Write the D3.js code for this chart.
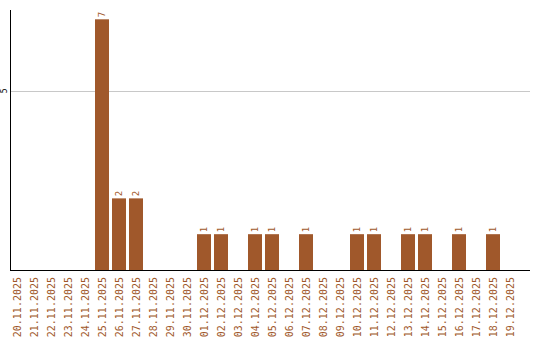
<!DOCTYPE html>
<html>
<head>
<meta charset="utf-8">
<script src="https://cdn.jsdelivr.net/npm/d3@7"></script>
<style>
  body { margin: 0; background: #fff; }
</style>
</head>
<body>
<div id="chart"></div>
<script>
var dates = ["20.11.2025", "21.11.2025", "22.11.2025", "23.11.2025", "24.11.2025",
    "25.11.2025", "26.11.2025", "27.11.2025", "28.11.2025", "29.11.2025",
    "30.11.2025", "01.12.2025", "02.12.2025", "03.12.2025", "04.12.2025",
    "05.12.2025", "06.12.2025", "07.12.2025", "08.12.2025", "09.12.2025",
    "10.12.2025", "11.12.2025", "12.12.2025", "13.12.2025", "14.12.2025",
    "15.12.2025", "16.12.2025", "17.12.2025", "18.12.2025", "19.12.2025"]
var counts = [0, 0, 0, 0, 0, 7, 2, 2, 0, 0,
    0, 1, 1, 0, 1, 1, 0, 1, 0, 0,
    1, 1, 0, 1, 1, 0, 1, 0, 1, 0]
var yTicks = [5]

var width = 540
var height = 340
var margins = ({ top: 10, right: 10, bottom: 70, left: 10 })
const barColor = "#a0582b"

var svg = d3.select("#chart")
    .append("svg")
    .attr("width", width)
    .attr("height", height)

var data = dates.map(function(d, i) { return { "date": d, "count": counts[i] } })

// 17px per day, 14px bars, bars sit at the left of each slot
var x = d3.scaleBand()
    .domain(dates)
    .range([margins.left, margins.left + dates.length * 17 - 3])
    .paddingInner(3 / 17)
    .paddingOuter(0)

var y = d3.scaleLinear()
    .domain([0, 7.26])
    .range([height - margins.bottom, margins.top])

// grid
svg.selectAll(".grid")
    .data(yTicks)
    .enter()
    .append("line")
    .attr("class", "grid")
    .attr("x1", margins.left)
    .attr("x2", width - margins.right)
    .attr("y1", d => Math.round(y(d)) + 0.5)
    .attr("y2", d => Math.round(y(d)) + 0.5)
    .attr("stroke", "#c8c8c8")
    .attr("stroke-width", 1)

svg.selectAll(".ytick")
    .data(yTicks)
    .enter()
    .append("text")
    .attr("class", "ytick")
    .attr("transform", d => `translate(7,${y(d)}) rotate(-90)`)
    .attr("text-anchor", "middle")
    .style("font-family", "DejaVu Sans Mono, monospace")
    .style("font-size", "8px")
    .attr("fill", "#000")
    .text(d => d)

// bars
svg.selectAll(".bar")
    .data(data.filter(d => d.count > 0))
    .enter()
    .append("rect")
    .attr("class", "bar")
    .attr("x", d => x(d.date))
    .attr("y", d => y(d.count))
    .attr("width", x.bandwidth())
    .attr("height", d => y(0) - y(d.count))
    .attr("fill", barColor)

svg.selectAll(".value")
    .data(data.filter(d => d.count > 0))
    .enter()
    .append("text")
    .attr("class", "value")
    .attr("transform", d => `translate(${x(d.date) + x.bandwidth() / 2 + 3},${y(d.count) - 2}) rotate(-90)`)
    .attr("text-anchor", "start")
    .style("font-family", "DejaVu Sans Mono, monospace")
    .style("font-size", "9px")
    .attr("fill", barColor)
    .text(d => d.count)

// axes lines
svg.append("line")
    .attr("x1", margins.left + 0.5)
    .attr("x2", margins.left + 0.5)
    .attr("y1", margins.top)
    .attr("y2", height - margins.bottom)
    .attr("stroke", "#000")

svg.append("line")
    .attr("x1", margins.left)
    .attr("x2", width - margins.right)
    .attr("y1", height - margins.bottom + 0.5)
    .attr("y2", height - margins.bottom + 0.5)
    .attr("stroke", "#000")

// date labels
svg.selectAll(".xlabel")
    .data(dates)
    .enter()
    .append("text")
    .attr("class", "xlabel")
    .attr("transform", d => `translate(${x(d) + x.bandwidth() / 2 + 4},${height - margins.bottom + 7}) rotate(-90)`)
    .attr("text-anchor", "end")
    .style("font-family", "DejaVu Sans Mono, monospace")
    .style("font-size", "10px")
    .attr("fill", barColor)
    .text(d => d)
</script>
</body>
</html>
